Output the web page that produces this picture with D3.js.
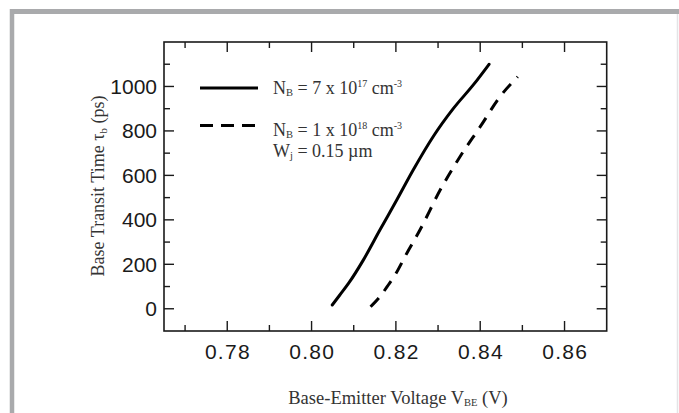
<!DOCTYPE html>
<html>
<head>
<meta charset="utf-8">
<script src="https://cdn.jsdelivr.net/npm/d3@7"></script>
<style>
  html, body { margin: 0; padding: 0; background: #fff; }
  svg { display: block; }
</style>
</head>
<body>
<svg width="679" height="413"></svg>
<script>
// Series: base-emitter voltage (V) vs base transit time (ps)
const solidV   = [0.8049, 0.8067, 0.8088, 0.8123, 0.8162, 0.8202, 0.8241, 0.8289, 0.8336, 0.8384, 0.8421];
const solidTau = [17, 62, 115, 220, 354, 489, 624, 776, 900, 1008, 1100];
const dashedV   = [0.8140, 0.8162, 0.8182, 0.8198, 0.8226, 0.8257, 0.8305, 0.8352, 0.8400, 0.8447, 0.8489];
const dashedTau = [9, 54, 107, 152, 250, 354, 534, 684, 819, 954, 1044];

const xMajor = [0.78, 0.80, 0.82, 0.84, 0.86];
const xMinor = [0.77, 0.79, 0.81, 0.83, 0.85];
const yMajor = [0, 200, 400, 600, 800, 1000];
const yMinor = [100, 300, 500, 700, 900, 1100];

const svg = d3.select("svg");

// Gray frame around the figure
svg.append("rect").attr("x", 0).attr("y", 0).attr("width", 679).attr("height", 413).attr("fill", "#fff");
svg.append("line").attr("x1", 10).attr("x2", 679).attr("y1", 11.5).attr("y2", 11.5)
    .attr("stroke", "#a9aaac").attr("stroke-width", 5);
svg.append("line").attr("x1", 12).attr("x2", 12).attr("y1", 9).attr("y2", 413)
    .attr("stroke", "#a9aaac").attr("stroke-width", 4.5);
svg.append("line").attr("x1", 677.5).attr("x2", 677.5).attr("y1", 14).attr("y2", 413)
    .attr("stroke", "#e4e4e6").attr("stroke-width", 1.5);

// Plot box
const pLeft = 164, pRight = 606.7, pTop = 42, pBottom = 331;
const x = d3.scaleLinear().domain([0.765, 0.870]).range([pLeft, pRight]);
const y = d3.scaleLinear().domain([-100, 1200]).range([pBottom, pTop]);

const ink = "#1a1a1a";
const g = svg.append("g");

g.append("rect")
    .attr("x", pLeft).attr("y", pTop)
    .attr("width", pRight - pLeft).attr("height", pBottom - pTop)
    .attr("fill", "none").attr("stroke", ink).attr("stroke-width", 1.6);

// Inward ticks on all four sides
function tickSet(vals, len) {
  vals.forEach(v => {
    g.append("line").attr("x1", x(v)).attr("x2", x(v)).attr("y1", pBottom).attr("y2", pBottom - len)
        .attr("stroke", ink).attr("stroke-width", 1.4);
    g.append("line").attr("x1", x(v)).attr("x2", x(v)).attr("y1", pTop).attr("y2", pTop + len)
        .attr("stroke", ink).attr("stroke-width", 1.4);
  });
}
function tickSetY(vals, len) {
  vals.forEach(v => {
    g.append("line").attr("y1", y(v)).attr("y2", y(v)).attr("x1", pLeft).attr("x2", pLeft + len)
        .attr("stroke", ink).attr("stroke-width", 1.4);
    g.append("line").attr("y1", y(v)).attr("y2", y(v)).attr("x1", pRight).attr("x2", pRight - len)
        .attr("stroke", ink).attr("stroke-width", 1.4);
  });
}
tickSet(xMajor, 10);
tickSet(xMinor, 6);
tickSetY(yMajor, 10);
tickSetY(yMinor, 6);

// Tick labels
const tickFont = "'Liberation Sans', Arial, Helvetica, sans-serif";
g.selectAll("text.xl").data(xMajor).enter().append("text")
    .attr("class", "xl")
    .attr("x", d => x(d) + 0.7).attr("y", 359)
    .attr("text-anchor", "middle")
    .style("font-family", tickFont).style("font-size", "21px").style("letter-spacing", "1.3px")
    .attr("fill", ink)
    .text(d => d3.format(".2f")(d));
g.selectAll("text.yl").data(yMajor).enter().append("text")
    .attr("class", "yl")
    .attr("x", 157).attr("y", d => y(d) + 7.5)
    .attr("text-anchor", "end")
    .style("font-family", tickFont).style("font-size", "21px").attr("fill", ink)
    .text(d => d);

// Curves
const line = d3.line()
    .x(d => x(d[0]))
    .y(d => y(d[1]))
    .curve(d3.curveMonotoneX);

g.append("path")
    .attr("d", line(d3.zip(solidV, solidTau)))
    .attr("fill", "none").attr("stroke", "#000").attr("stroke-width", 3)
    .attr("stroke-linecap", "round");
g.append("path")
    .attr("d", line(d3.zip(dashedV, dashedTau)))
    .attr("fill", "none").attr("stroke", "#000").attr("stroke-width", 3)
    .attr("stroke-dasharray", "12,9");

// Legend
const serif = "'Liberation Serif', 'Times New Roman', Times, serif";
const textCol = "#333";
g.append("line").attr("x1", 200).attr("x2", 258).attr("y1", 88).attr("y2", 88)
    .attr("stroke", "#000").attr("stroke-width", 3);
g.append("line").attr("x1", 200).attr("x2", 258).attr("y1", 125.5).attr("y2", 125.5)
    .attr("stroke", "#000").attr("stroke-width", 3).attr("stroke-dasharray", "13,8");

function legendLabel(yb, parts) {
  const t = g.append("text").attr("x", 273).attr("y", yb)
      .style("font-family", serif).style("font-size", "18px").attr("fill", textCol);
  parts.forEach(p => {
    const s = t.append("tspan").text(p[0]);
    if (p[1] === "sub") s.style("font-size", "10.5px").attr("dy", 2);
    else if (p[1] === "sup") s.style("font-size", "10px").attr("dy", -7);
    if (p[2] !== undefined) s.attr("dy", p[2]);
  });
}
legendLabel(94, [["N"], ["B", "sub"], [" = 7 x 10", null, -2], ["17", "sup"], [" cm", null, 7], ["-3", "sup"]]);
legendLabel(136, [["N"], ["B", "sub"], [" = 1 x 10", null, -2], ["18", "sup"], [" cm", null, 7], ["-3", "sup"]]);
legendLabel(157, [["W"], ["j", "sub"], [" = 0.15 \u00b5m", null, -2]]);

// Axis titles
const xt = svg.append("text")
    .attr("x", 398).attr("y", 404)
    .attr("text-anchor", "middle")
    .style("font-family", serif).style("font-size", "18.5px").attr("fill", textCol);
xt.append("tspan").text("Base-Emitter Voltage V");
xt.append("tspan").text("BE").style("font-size", "10.5px").attr("dy", 2);
xt.append("tspan").text(" (V)").attr("dy", -2);

const yt = svg.append("text")
    .attr("transform", "translate(104,186) rotate(-90)")
    .attr("text-anchor", "middle")
    .style("font-family", serif).style("font-size", "18px").attr("fill", textCol);
yt.append("tspan").text("Base Transit Time \u03c4");
yt.append("tspan").text("b").style("font-size", "11px").attr("dy", 3);
yt.append("tspan").text(" (ps)").attr("dy", -3);
</script>
</body>
</html>
